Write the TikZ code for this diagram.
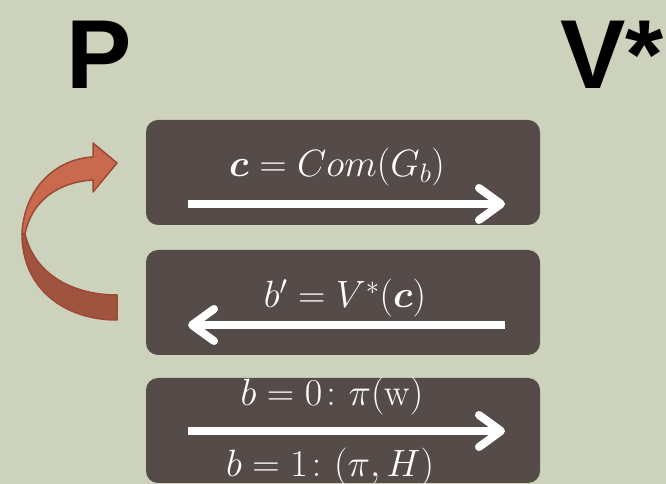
\RequirePackage{fix-cm}
\documentclass[tikz,border=0pt]{standalone}
\definecolor{sagebg}{RGB}{204,210,188}
\definecolor{boxbrown}{RGB}{85,75,72}
\definecolor{rustlight}{RGB}{201,106,78}
\definecolor{rustdark}{RGB}{160,83,62}
\definecolor{rustline}{RGB}{155,74,54}
\usepackage{amsmath,amssymb}
\usepackage{fontspec}
\newfontfamily\headfont{Liberation Sans}
\usepackage{tikz}
\usetikzlibrary{arrows.meta,positioning,calc}

\tikzset{
    msgbox/.style={rounded corners=12pt, fill=boxbrown, minimum width=394pt, minimum height=105pt, inner sep=0pt},
    msgtext/.style={text=white, inner sep=0pt, anchor=base, font=\fontsize{38}{42}\selectfont},
    msgarrow/.style={draw=white, line width=8pt, -{Straight Barb[length=22pt, width=32pt, round]}},
    party/.style={inner sep=0pt, anchor=base west, font=\headfont\bfseries\fontsize{98}{100}\selectfont},
    rustband/.style={draw=rustline, line width=1.5pt, line join=round}
}

\begin{document}
\begin{tikzpicture}[x=1pt, y=1pt]
    \useasboundingbox (0,0) rectangle (666,484);
    \fill[sagebg] (0,0) rectangle (666,484);

    % the two parties
    \node[party] (prover) at (66,395) {P};
    \node[party] (verifier) at (560,395) {V*};

    % message boxes
    \node[msgbox] (commit) at (343,311.5) {};
    \node[msgbox] (challenge) at (343,181.5) {};
    \node[msgbox] (response) at (343,53.5) {};

    \node[msgtext] (commitlbl) at (337,307) {$\boldsymbol{c} = Com(G_b)$};
    \node[msgtext] (challengelbl) at (345,176) {$b' = V^*(\boldsymbol{c})$};
    \node[msgtext] (responselbl) at (332,78) {$b = 0\colon \pi(\text{w})$};
    \node[msgtext] (responselblb) at (330,7) {$b = 1\colon (\pi, H)$};

    \coordinate (commitL) at (188,280);
    \coordinate (commitR) at (505,280);
    \coordinate (challengeL) at (188,159);
    \coordinate (challengeR) at (505,159);
    \coordinate (responseL) at (188,53);
    \coordinate (responseR) at (505,53);

    \draw[msgarrow] (commitL) -- (commitR);
    \draw[msgarrow] (challengeR) -- (challengeL);
    \draw[msgarrow] (responseL) -- (responseR);

    % rewinding arrow
    \filldraw[rustband, fill=rustdark] (22,250) .. controls (22,195) and (65,164) .. (117,164)
        -- (117,189) .. controls (75,189) and (35,208) .. (25,250) -- cycle;
    \filldraw[rustband, fill=rustlight] (22,250) .. controls (24,295) and (55,325) .. (93,327)
        -- (93,341) -- (117,321) -- (93,292) -- (93,304)
        .. controls (60,302) and (32,285) .. (25,250) -- cycle;
\end{tikzpicture}
\end{document}
